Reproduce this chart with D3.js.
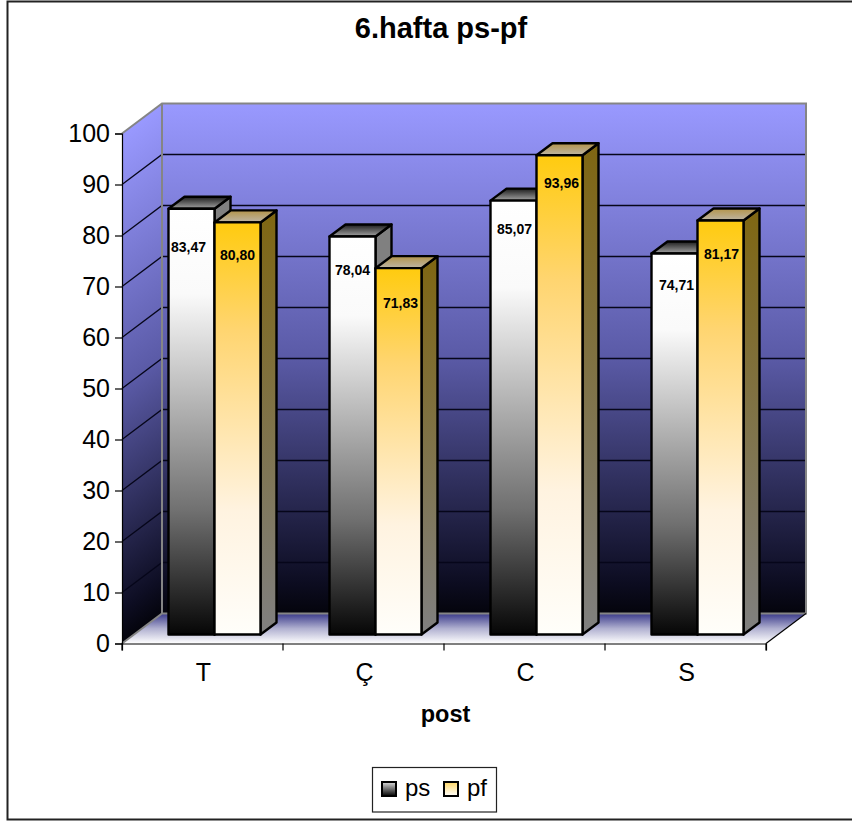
<!DOCTYPE html>
<html>
<head>
<meta charset="utf-8">
<script src="https://cdn.jsdelivr.net/npm/d3@7/dist/d3.min.js"></script>
<style>
html, body { margin: 0; padding: 0; background: #fff; }
svg { display: block; }
text { font-family: "Liberation Sans", Arial, sans-serif; fill: #000; }
</style>
</head>
<body>
<svg id="chart" width="852" height="822"></svg>
<script>
// Chart content
const categories = ["T", "Ç", "C", "S"];
const seriesNames = ["ps", "pf"];
const psValues = [83.47, 78.04, 85.07, 74.71];
const pfValues = [80.80, 71.83, 93.96, 81.17];
const yTicks = [0, 10, 20, 30, 40, 50, 60, 70, 80, 90, 100];
const chartTitle = "6.hafta ps-pf";
const xTitle = "post";

// Hand placement of the value labels, px below the top of each bar
const labelDrop = { ps: [38, 34, 28, 32], pf: [33, 35, 28, 34] };
const labelShift = { ps: [-3, 0, 1, 2], pf: [0, 2, 2, 1] };

const svg = d3.select("#chart");
const defs = svg.append("defs");

function gradient(id, stops) {
  const g = defs.append("linearGradient").attr("id", id)
    .attr("x1", 0).attr("y1", 0).attr("x2", 0).attr("y2", 1);
  stops.forEach(([o, c]) => g.append("stop").attr("offset", o).attr("stop-color", c));
}
gradient("wall", [[0, "#9999ff"], [0.5, "#5a5aa6"], [0.93, "#0e0e24"], [1, "#04040c"]]);
gradient("floor", [[0, "#3a3a8a"], [0.5, "#b0b0d0"], [1, "#ffffff"]]);
gradient("psFront", [[0, "#ffffff"], [0.2, "#fafafa"], [0.71, "#707070"], [1, "#060606"]]);
gradient("pfFront", [[0, "#ffcb0f"], [0.26, "#ffd570"], [0.7, "#fff3e0"], [1, "#fffefa"]]);
gradient("psTop", [[0, "#1c1c1c"], [1, "#a4a4a4"]]);
gradient("pfTop", [[0, "#b3944a"], [1, "#bdb5a5"]]);
gradient("psSide", [[0, "#808080"], [1, "#808080"]]);
gradient("pfSide", [[0, "#7f6612"], [1, "#808080"]]);
gradient("psKey", [[0, "#dddddd"], [1, "#000000"]]);
gradient("pfKey", [[0, "#ffd766"], [1, "#ffffff"]]);

// Outer frame of the chart area
svg.append("rect").attr("x", 7.5).attr("y", 1.5).attr("width", 870).attr("height", 818)
  .attr("fill", "#fff").attr("stroke", "#222").attr("stroke-width", 2);

// Front plane scales and the oblique depth vector
const x = d3.scaleBand().domain(categories).range([122, 766]);
const y = d3.scaleLinear().domain([0, 100]).range([643.5, 133.5]);
const depthX = 40, depthY = -30;
const slope = -depthY / depthX;
const [x0, x1] = x.range();

const inner = d3.scaleBand().domain(seriesNames).paddingOuter(0.75).paddingInner(0);
inner.range([0, x.bandwidth()]);

// Back wall
svg.append("rect").attr("x", x0 + depthX).attr("y", y(100) + depthY)
  .attr("width", x1 - x0).attr("height", y(0) - y(100)).attr("fill", "url(#wall)");

// Side wall: a sheared rectangle so the shading follows the depth direction
svg.append("rect").attr("x", x0).attr("y", y(100))
  .attr("width", depthX).attr("height", y(0) - y(100))
  .attr("fill", "url(#wall)")
  .attr("transform", `matrix(1,${-slope},0,1,0,${slope * x0})`);

// Floor
svg.append("path")
  .attr("d", d3.line()([[x0, y(0)], [x0 + depthX, y(0) + depthY], [x1 + depthX, y(0) + depthY], [x1, y(0)]]) + "Z")
  .attr("fill", "url(#floor)");

// Gridlines on both walls
const grid = yTicks.filter(t => t > 0 && t < 100);
svg.append("g").selectAll("path").data(grid).join("path")
  .attr("d", t => d3.line()([[x0, y(t)], [x0 + depthX, y(t) + depthY], [x1 + depthX, y(t) + depthY]]))
  .attr("fill", "none").attr("stroke", "#06061a").attr("stroke-width", 1.3);

// Gray wall outlines
svg.append("path")
  .attr("d", d3.line()([[x0, y(100)], [x0 + depthX, y(100) + depthY], [x1 + depthX, y(100) + depthY], [x1 + depthX, y(0) + depthY], [x0 + depthX, y(0) + depthY], [x0, y(0)]])
    + d3.line()([[x0 + depthX, y(100) + depthY], [x0 + depthX, y(0) + depthY]]))
  .attr("fill", "none").attr("stroke", "#858585").attr("stroke-width", 2);

// Floor front-right edge
svg.append("path")
  .attr("d", d3.line()([[x1, y(0)], [x1 + depthX, y(0) + depthY]]))
  .attr("fill", "none").attr("stroke", "#000").attr("stroke-width", 1.2);

// Bars: the base sits 30% into the depth and the body takes 40% of it
const baseFrac = 0.3, bodyFrac = 0.4;
const barDx = depthX * bodyFrac, barDy = depthY * bodyFrac;
const offX = depthX * baseFrac, offY = depthY * baseFrac;

const bars = [];
categories.forEach((c, i) => {
  bars.push({ c, i, s: "ps", v: psValues[i] });
  bars.push({ c, i, s: "pf", v: pfValues[i] });
});

const poly = pts => d3.line()(pts) + "Z";
const barG = svg.append("g").selectAll("g").data(bars).join("g")
  .attr("stroke", "#000").attr("stroke-width", 2.4).attr("stroke-linejoin", "round");

barG.each(function (d) {
  const g = d3.select(this);
  const l = x(d.c) + inner(d.s) + offX;
  const r = l + inner.bandwidth();
  const t = y(d.v) + offY;
  const b = y(0) + offY;
  g.append("path").attr("fill", `url(#${d.s}Side)`)
    .attr("d", poly([[r, t], [r + barDx, t + barDy], [r + barDx, b + barDy], [r, b]]));
  g.append("path").attr("fill", `url(#${d.s}Top)`)
    .attr("d", poly([[l, t], [l + barDx, t + barDy], [r + barDx, t + barDy], [r, t]]));
  g.append("rect").attr("fill", `url(#${d.s}Front)`)
    .attr("x", l).attr("y", t).attr("width", r - l).attr("height", b - t);
});

// Value labels with a decimal comma
const fmt = v => v.toFixed(2).replace(".", ",");
svg.append("g").selectAll("text").data(bars).join("text")
  .attr("x", d => x(d.c) + inner(d.s) + offX + inner.bandwidth() / 2 + labelShift[d.s][d.i])
  .attr("y", d => y(d.v) + offY + labelDrop[d.s][d.i])
  .attr("dy", "0.35em")
  .attr("text-anchor", "middle")
  .attr("font-size", 14).attr("font-weight", "bold")
  .text(d => fmt(d.v));

// Axes
const yAxis = d3.axisLeft(y).tickValues(yTicks).tickSize(7).tickPadding(5).tickFormat(d3.format("d"));
const yG = svg.append("g").attr("transform", `translate(${x0},0)`).call(yAxis);
yG.selectAll("text").attr("font-size", 25).style("font-family", "inherit");
yG.select(".domain").attr("stroke", "#000").attr("stroke-width", 1.2);
yG.selectAll("line").attr("stroke", "#000").attr("stroke-width", 1.2);

const xAxis = d3.axisBottom(x).tickSize(7).tickPadding(13).tickSizeOuter(7);
const xG = svg.append("g").attr("transform", `translate(0,${y(0)})`).call(xAxis);
xG.selectAll(".tick line").attr("display", "none");
xG.selectAll("text").attr("font-size", 25).attr("dx", 1).style("font-family", "inherit");
xG.select(".domain").attr("stroke", "#000").attr("stroke-width", 1.2);
xG.append("g").selectAll("line").data(d3.range(categories.length + 1)).join("line")
  .attr("x1", i => x0 + i * x.step()).attr("x2", i => x0 + i * x.step())
  .attr("y1", 0).attr("y2", 7).attr("stroke", "#000").attr("stroke-width", 1.2);

// Titles
svg.append("text").attr("x", 441).attr("y", 38).attr("text-anchor", "middle")
  .attr("font-size", 29).attr("font-weight", "bold").text(chartTitle);
svg.append("text").attr("x", 445.5).attr("y", 722).attr("text-anchor", "middle")
  .attr("font-size", 23.5).attr("font-weight", "bold").text(xTitle);

// Legend
const legend = svg.append("g");
legend.append("rect").attr("x", 372.5).attr("y", 767.5).attr("width", 124).attr("height", 44.5)
  .attr("fill", "#fff").attr("stroke", "#222").attr("stroke-width", 1.2);
const keys = legend.selectAll("g").data(seriesNames).join("g")
  .attr("transform", (d, i) => `translate(${382 + i * 62},782)`);
keys.append("rect").attr("width", 14).attr("height", 14)
  .attr("fill", d => `url(#${d}Key)`).attr("stroke", "#000").attr("stroke-width", 2);
keys.append("text").attr("x", 23).attr("y", 14).attr("font-size", 24).text(d => d);
</script>
</body>
</html>
